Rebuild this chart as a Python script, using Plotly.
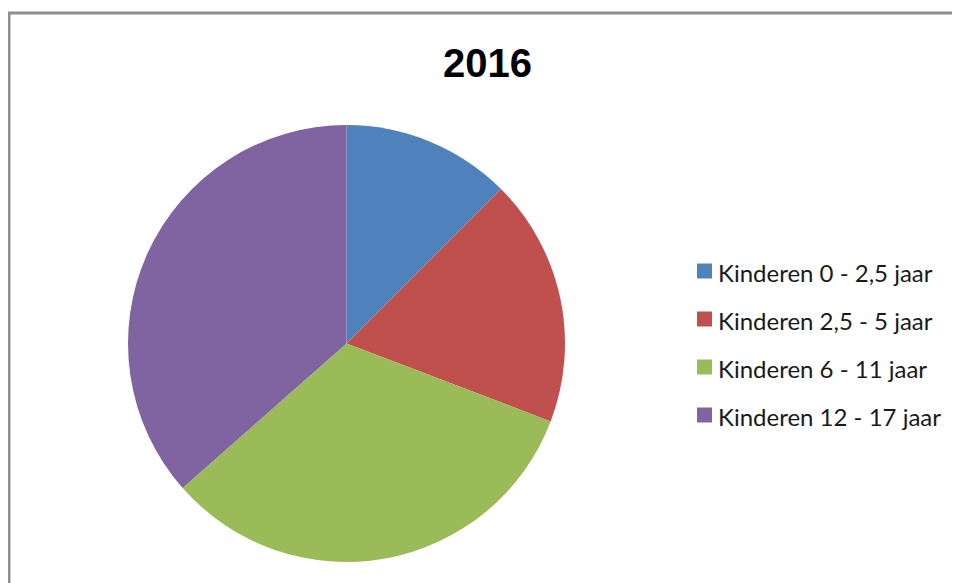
import plotly.graph_objects as go

labels = [
    "Kinderen 0 - 2,5 jaar",
    "Kinderen 2,5 - 5 jaar",
    "Kinderen 6 - 11 jaar",
    "Kinderen 12 - 17 jaar",
]
values = [12.5, 18.3, 32.7, 36.5]
colors = ["#4F81BD", "#C0504D", "#9BBB59", "#8064A2"]
title = "2016"

W, H = 960, 583
OFF = 8  # the page puts the figure 8px in from the corner


def px_x(x):
    return (x - OFF) / W


def px_y(y):
    return 1 - (y - OFF) / H


# pie placement in pixels
cx, cy, r = 346.5, 343.5, 218.5

fig = go.Figure()
fig.add_pie(
    labels=labels,
    values=values,
    sort=False,
    direction="clockwise",
    rotation=0,
    marker=dict(colors=colors, line=dict(width=0)),
    textinfo="none",
    showlegend=False,
    domain=dict(x=[px_x(cx - r), px_x(cx + r)], y=[px_y(cy + r), px_y(cy - r)]),
)

# outer frame: only the top and left edges are in view
frame = dict(color="#8f8f8f", width=3)
fig.add_shape(type="line", xref="paper", yref="paper",
              x0=px_x(8), x1=1.2, y0=px_y(13), y1=px_y(13), line=frame)
fig.add_shape(type="line", xref="paper", yref="paper",
              x0=px_x(9), x1=px_x(9), y0=-0.2, y1=px_y(12), line=frame)

# legend drawn by hand so the row spacing matches
row_y = [271, 319, 367, 415]
for lab, col, y in zip(labels, colors, row_y):
    fig.add_shape(
        type="rect", xref="paper", yref="paper",
        x0=px_x(697), x1=px_x(712), y0=px_y(y + 7.5), y1=px_y(y - 7.5),
        fillcolor=col, line=dict(width=0),
    )
    fig.add_annotation(
        text=lab, xref="paper", yref="paper",
        x=px_x(716), y=px_y(y + 1), xanchor="left", yanchor="middle",
        showarrow=False, font=dict(family="Lato", size=24, color="#1a1a1a"),
    )

fig.add_annotation(
    text="<b>" + title + "</b>", xref="paper", yref="paper",
    x=px_x(487), y=px_y(63), xanchor="center", yanchor="middle",
    showarrow=False, font=dict(family="Liberation Sans", size=40, color="#000000"),
)

fig.update_layout(
    width=W,
    height=H,
    margin=dict(l=0, r=0, t=0, b=0),
    paper_bgcolor="white",
    plot_bgcolor="white",
)

fig.write_html("out.html")
